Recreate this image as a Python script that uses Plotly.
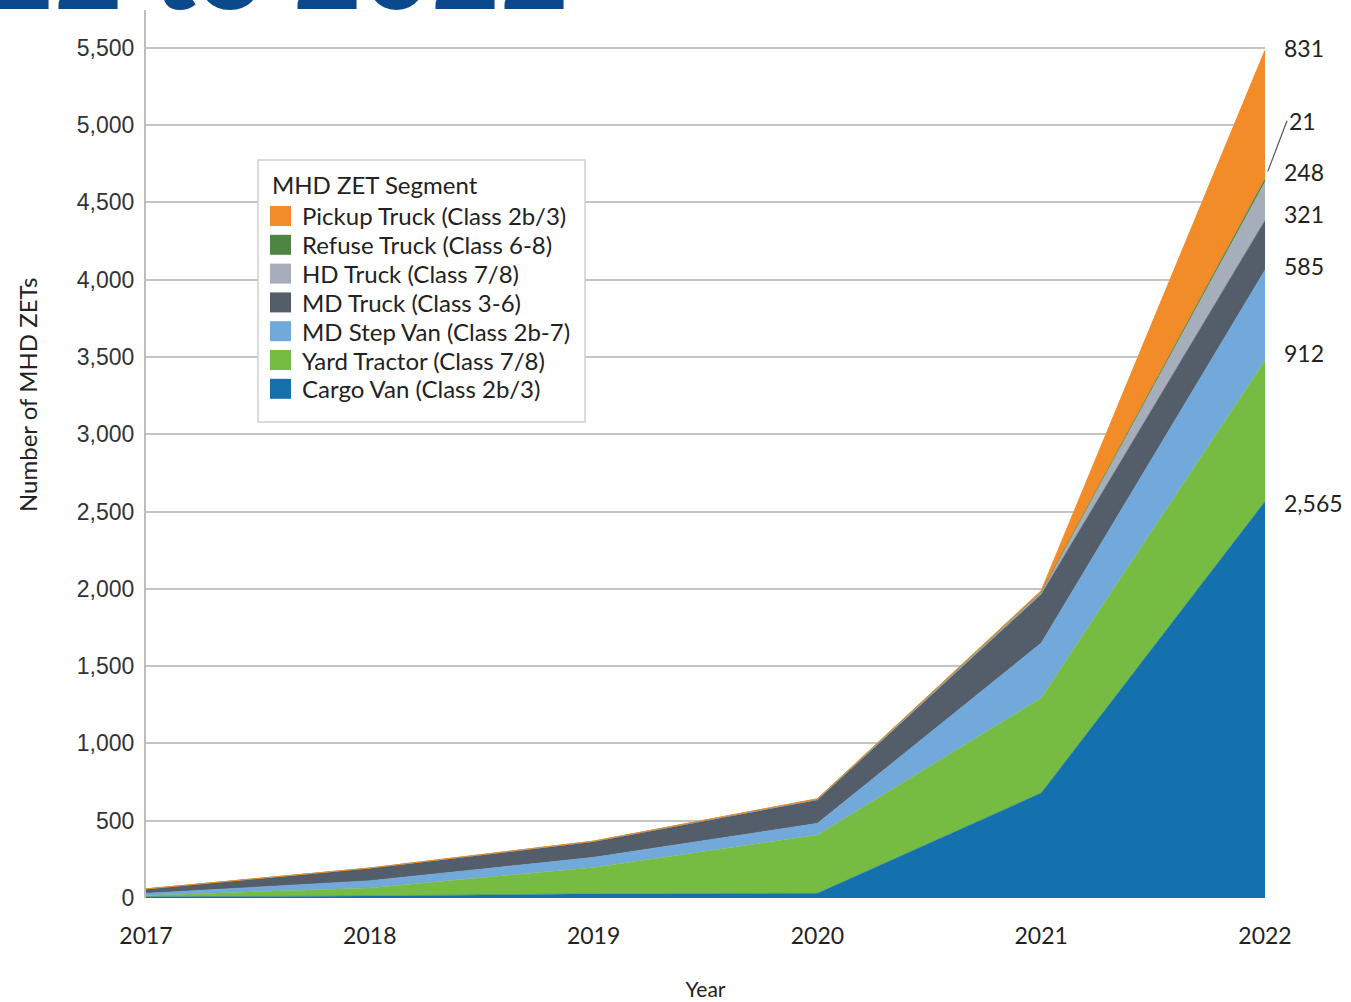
import plotly.graph_objects as go

years = [2017, 2018, 2019, 2020, 2021, 2022]
cargo_van = [8, 13, 27, 30, 679, 2565]
yard_tractor = [8, 52, 171, 377, 615, 912]
md_step_van = [14, 47, 65, 76, 355, 585]
md_truck = [28, 80, 101, 151, 316, 321]
hd_truck = [1, 2, 3, 5, 10, 248]
refuse_truck = [0, 0, 1, 2, 5, 21]
pickup_truck = [0, 0, 0, 1, 8, 831]

series_names = [
    "Cargo Van (Class 2b/3)",
    "Yard Tractor (Class 7/8)",
    "MD Step Van (Class 2b-7)",
    "MD Truck (Class 3-6)",
    "HD Truck (Class 7/8)",
    "Refuse Truck (Class 6-8)",
    "Pickup Truck (Class 2b/3)",
]
series_values = [cargo_van, yard_tractor, md_step_van, md_truck, hd_truck, refuse_truck, pickup_truck]
colors = ["#1570AE", "#76BC43", "#72A9DB", "#545E6B", "#A6AEBB", "#4E8542", "#F28C28"]

title_fragment = "22 to 2022"
y_title = "Number of MHD ZETs"
x_title = "Year"
legend_title = "MHD ZET Segment"

# ---- layout geometry (pixels) ----
W, H = 1351, 1002
ML, MR, MT, MB = 146, 86, 10, 104
PW, PH = W - ML - MR, H - MT - MB


def px_x(p):
    return (p - ML) / PW


def px_y(p):
    return (H - MB - p) / PH


fig = go.Figure()

for name, vals, col in zip(series_names, series_values, colors):
    fig.add_trace(go.Scatter(
        x=years, y=vals, name=name, mode="lines",
        stackgroup="one", fillcolor=col,
        line=dict(color=col, width=1 if col == "#F28C28" else 0.5),
        showlegend=False, hoverinfo="x+y+name",
    ))

# ---- legend drawn as a boxed list (top to bottom: reversed stack order) ----
fig.add_shape(type="rect", xref="paper", yref="paper",
              x0=px_x(258), x1=px_x(585), y0=px_y(422), y1=px_y(160),
              fillcolor="white", line=dict(color="#D0D0D0", width=1.5), layer="above")
fig.add_annotation(x=px_x(270), y=px_y(184), xref="paper", yref="paper",
                   text=legend_title, showarrow=False, xanchor="left", yanchor="middle",
                   font=dict(family="Lato", size=24, color="#222222"))
for k, (name, col) in enumerate(zip(series_names[::-1], colors[::-1])):
    yc = 216 + 28.8 * k
    fig.add_shape(type="rect", xref="paper", yref="paper",
                  x0=px_x(270), x1=px_x(291), y0=px_y(yc + 10), y1=px_y(yc - 10),
                  fillcolor=col, line=dict(width=0), layer="above")
    fig.add_annotation(x=px_x(300), y=px_y(yc), xref="paper", yref="paper",
                       text=name, showarrow=False, xanchor="left", yanchor="middle",
                       font=dict(family="Lato", size=24, color="#222222"))

# ---- right-side value labels for 2022 ----
cum = []
running = 0
for vals in series_values:
    running += vals[-1]
    cum.append(running)

label_font = dict(family="Lato", size=23, color="#222222")
for i, (vals, top) in enumerate(zip(series_values, cum)):
    txt = f"{vals[-1]:,}"
    if series_names[i].startswith("Refuse"):
        fig.add_annotation(
            x=years[-1], y=top, xref="x", yref="y", text=txt,
            showarrow=True, arrowhead=0, arrowwidth=1.2, arrowcolor="#555555",
            ax=22, ay=-58, standoff=8, xanchor="left", yanchor="middle",
            font=label_font,
        )
    else:
        shift = {0: -2, 1: 7, 2: 4, 3: 6, 4: 10, 6: 2}.get(i, 0)
        fig.add_annotation(
            x=years[-1], y=top, xref="x", yref="y", text=txt,
            showarrow=False, xanchor="left", yanchor="middle",
            xshift=17, yshift=shift, font=label_font,
        )

# ---- y-axis title (placed as in the reference, above centre) ----
fig.add_annotation(x=px_x(28), y=px_y(395), xref="paper", yref="paper",
                   text=y_title, textangle=-90, showarrow=False,
                   xanchor="center", yanchor="middle",
                   font=dict(family="Lato", size=24, color="#222222"))

# ---- clipped title fragment at the very top ----
fig.add_annotation(
    x=0.3795, y=1, xref="paper", yref="paper", text=f"<b>{title_fragment}</b>",
    showarrow=False, xanchor="right", yanchor="bottom", yshift=-26,
    font=dict(family="Lato", size=119, color="#0A4A8C"),
)

fig.update_layout(
    width=W, height=H,
    margin=dict(l=ML, r=MR, t=MT, b=MB),
    paper_bgcolor="white", plot_bgcolor="white",
    showlegend=False,
    xaxis=dict(
        range=[2017, 2022], tickmode="array", tickvals=years,
        ticktext=[str(y) for y in years],
        showgrid=False, zeroline=False, showline=False, automargin=False,
        tickfont=dict(family="Lato", size=23, color="#222222"),
        ticks="", ticklabelstandoff=22,
        title=dict(text=x_title, font=dict(family="Lato", size=21, color="#222222"), standoff=34),
    ),
    yaxis=dict(
        range=[0, 5744], tickmode="array",
        tickvals=list(range(0, 5501, 500)),
        ticktext=[f"{v:,}" for v in range(0, 5501, 500)],
        showgrid=True, gridcolor="#C4C4C4", gridwidth=1.5, automargin=False,
        zeroline=False, showline=True, linecolor="#BDBDBD", linewidth=2,
        tickfont=dict(family="Liberation Sans", size=23, color="#333333"),
        ticks="", ticklabelstandoff=5,
    ),
)

fig.write_html("out.html")
